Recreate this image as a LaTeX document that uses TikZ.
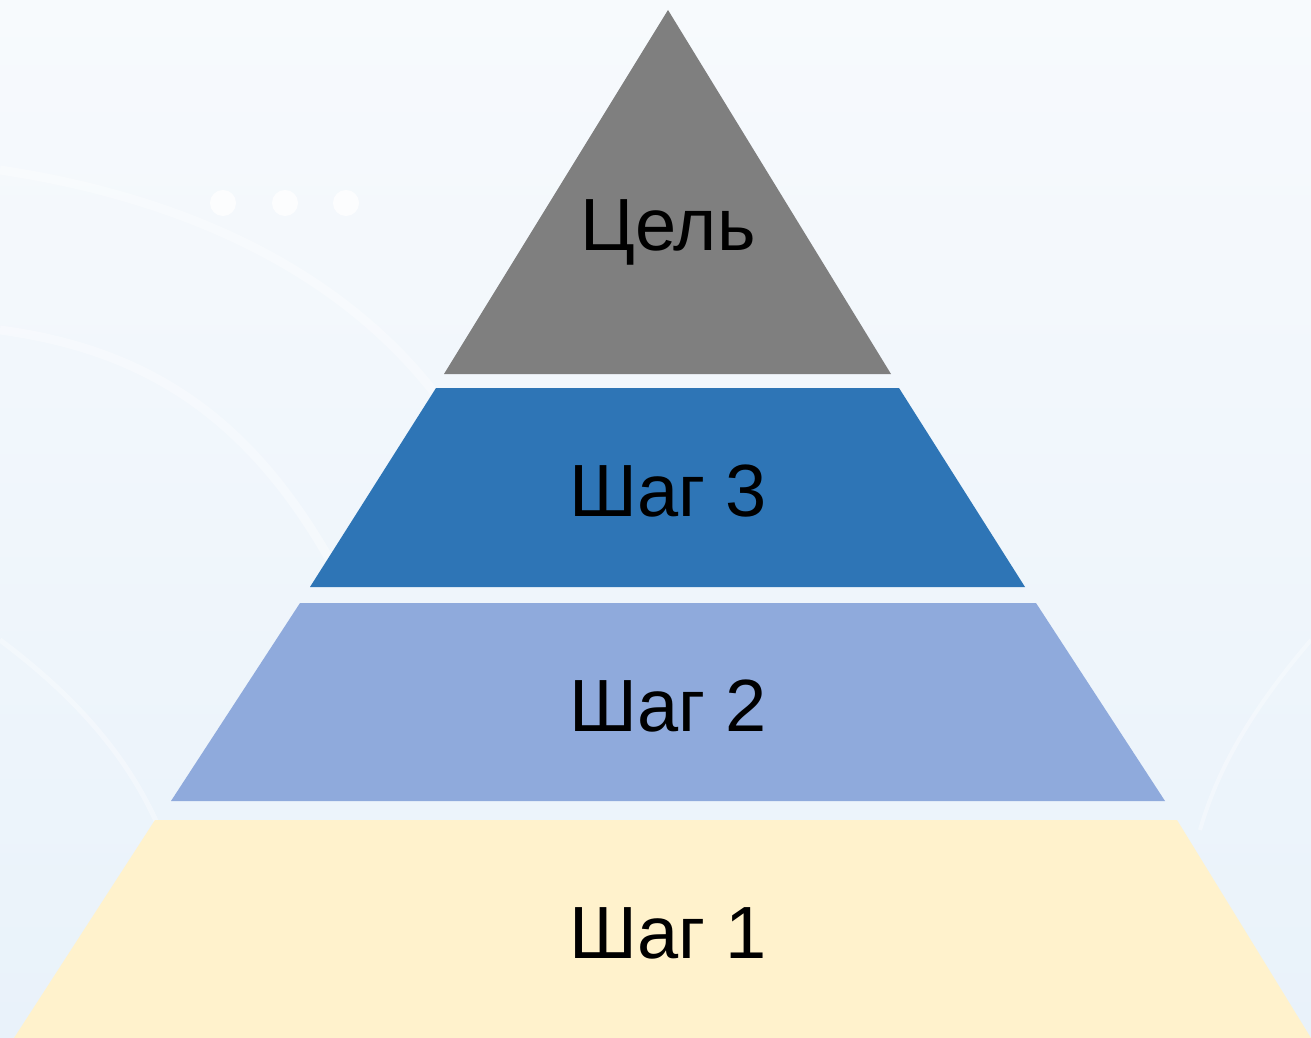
\documentclass[tikz,border=0pt]{standalone}
\usepackage{fontspec}
\setmainfont{Liberation Sans}
\definecolor{bgtop}{HTML}{F7FAFD}
\definecolor{bgbot}{HTML}{E9F2FA}
\definecolor{goalcol}{HTML}{7F7F7F}
\definecolor{stepthree}{HTML}{2E75B6}
\definecolor{steptwo}{HTML}{8FAADC}
\definecolor{stepone}{HTML}{FFF2CC}
\tikzset{
  layerlabel/.style={font=\fontsize{74}{80}\selectfont, text=black, inner sep=0pt, anchor=base},
  bgarc/.style={white, line width=9pt, opacity=0.35},
}
\begin{document}
\begin{tikzpicture}[x=1pt,y=-1pt]
  % background
  \shade[top color=bgtop, bottom color=bgbot] (0,0) rectangle (1311,1038);
  \useasboundingbox (0,0) rectangle (1311,1038);
  \draw[bgarc] (0,170) .. controls (200,200) and (350,280) .. (440,400);
  \draw[bgarc] (0,330) .. controls (150,350) and (250,420) .. (330,560);
  \draw[bgarc, line width=5pt] (0,640) .. controls (80,700) and (130,760) .. (160,830);
  \draw[bgarc, line width=4pt] (1311,640) .. controls (1260,700) and (1220,760) .. (1200,830);
  \foreach \x in {223,285,346}
    \fill[white, opacity=0.8] (\x,203) circle (13);

  % pyramid layers
  \fill[goalcol] (668,10) -- (891,374) -- (444,374) -- cycle;
  \fill[stepthree] (436,388) -- (899,388) -- (1025,587) -- (310,587) -- cycle;
  \fill[steptwo] (300,603) -- (1036,603) -- (1165,801) -- (171,801) -- cycle;
  \fill[stepone] (155,820) -- (1177,820) -- (1311,1038) -- (14,1038) -- cycle;

  % labels
  \node[layerlabel] (goal) at (668,250) {Цель};
  \node[layerlabel] (step3) at (668,516) {Шаг 3};
  \node[layerlabel] (step2) at (668,731) {Шаг 2};
  \node[layerlabel] (step1) at (668,958) {Шаг 1};
\end{tikzpicture}
\end{document}
